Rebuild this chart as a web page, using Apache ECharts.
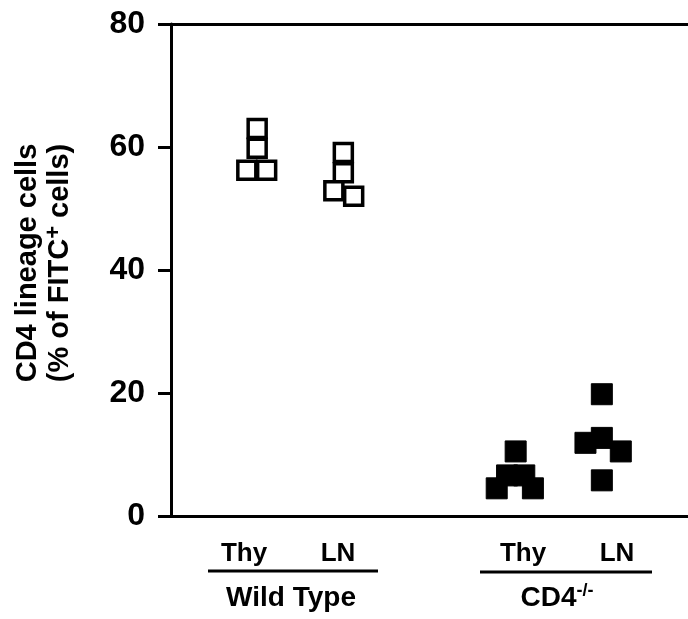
<!DOCTYPE html>
<html>
<head>
<meta charset="utf-8">
<script src="https://cdn.jsdelivr.net/npm/echarts@6/dist/echarts.min.js"></script>
<style>
html,body{margin:0;padding:0;background:#fff;}
#c{width:688px;height:619px;}
</style>
</head>
<body>
<div id="c"></div>
<script>
// ---- data ----
const tissues = ['Thy', 'LN', 'Thy', 'LN'];
const genotypes = ['Wild Type', 'CD4'];
const tissuePos = [1, 2, 4, 5];
const yTicks = [0, 20, 40, 60, 80];

const wtThyValues = [63, 59.8, 56.2, 56.2];
const wtThyJitter = [0, 0, -0.12, 0.11];
const wtLNValues = [59.1, 55.8, 52.9, 52.0];
const wtLNJitter = [0, 0, -0.11, 0.12];
const koThyValues = [10.5, 6.6, 6.6, 4.5, 4.5];
const koThyJitter = [0, -0.1, 0.1, -0.22, 0.2];
const koLNValues = [19.8, 12.7, 11.9, 10.5, 5.8];
const koLNJitter = [0, 0, -0.19, 0.22, 0];

function pts(pos, jitter, values) {
  return values.map((v, i) => [pos + jitter[i], v]);
}

const FONT = '"Liberation Sans", Arial, Helvetica, sans-serif';
const chart = echarts.init(document.getElementById('c'), null, {renderer: 'canvas'});

const openStyle = {color: '#fff', borderColor: '#000', borderWidth: 3.5, opacity: 1};
const filledStyle = {color: '#000', borderColor: '#000', borderWidth: 1, borderJoin: 'round', opacity: 1};

chart.setOption({
  animation: false,
  backgroundColor: '#fff',
  grid: {left: 171, right: 0, top: 24, bottom: 103, outerBoundsMode: 'none', containLabel: false},
  xAxis: [{
    type: 'value', min: 0, max: 6, position: 'bottom',
    axisLine: {show: true, onZero: false, lineStyle: {color: '#000', width: 3}},
    axisTick: {show: false}, axisLabel: {show: false}, splitLine: {show: false}
  }, {
    type: 'value', min: 0, max: 6, position: 'top',
    axisLine: {show: true, onZero: false, lineStyle: {color: '#000', width: 3}},
    axisTick: {show: false}, axisLabel: {show: false}, splitLine: {show: false}
  }],
  yAxis: {
    type: 'value', min: 0, max: 80, interval: 20,
    axisLine: {show: true, lineStyle: {color: '#000', width: 3}},
    axisTick: {show: true, inside: false, length: 13, lineStyle: {color: '#000', width: 3}},
    axisLabel: {show: true, margin: 26, color: '#000', fontSize: 32, fontWeight: 'bold', fontFamily: FONT,
      formatter: v => yTicks.includes(v) ? String(v) : ''},
    splitLine: {show: false}
  },
  series: [
    {type: 'scatter', symbol: 'rect', symbolSize: 18, itemStyle: openStyle, data: pts(tissuePos[0], wtThyJitter, wtThyValues), z: 3},
    {type: 'scatter', symbol: 'rect', symbolSize: 18, itemStyle: openStyle, data: pts(tissuePos[1], wtLNJitter, wtLNValues), z: 3},
    {type: 'scatter', symbol: 'rect', symbolSize: 21, itemStyle: filledStyle, data: pts(tissuePos[2], koThyJitter, koThyValues), z: 3},
    {type: 'scatter', symbol: 'rect', symbolSize: 21, itemStyle: filledStyle, data: pts(tissuePos[3], koLNJitter, koLNValues), z: 3}
  ],
  graphic: [
    {type: 'text', x: 28, y: 263, rotation: Math.PI / 2,
      style: {text: 'CD4 lineage cells', font: 'bold 29px ' + FONT, fill: '#000', align: 'center', verticalAlign: 'middle'}},
    {type: 'text', x: 60, y: 263, rotation: Math.PI / 2,
      style: {text: '(% of FITC{sup|+} cells)', font: 'bold 29px ' + FONT, fill: '#000', align: 'center', verticalAlign: 'middle',
        rich: {sup: {font: 'bold 22px ' + FONT, fill: '#000', padding: [0, 0, 12, 0]}}}},
    {type: 'text', x: 244, y: 554, style: {text: tissues[0], font: 'bold 26px ' + FONT, fill: '#000', align: 'center', verticalAlign: 'middle'}},
    {type: 'text', x: 338, y: 554, style: {text: tissues[1], font: 'bold 26px ' + FONT, fill: '#000', align: 'center', verticalAlign: 'middle'}},
    {type: 'text', x: 523, y: 554, style: {text: tissues[2], font: 'bold 26px ' + FONT, fill: '#000', align: 'center', verticalAlign: 'middle'}},
    {type: 'text', x: 617, y: 554, style: {text: tissues[3], font: 'bold 26px ' + FONT, fill: '#000', align: 'center', verticalAlign: 'middle'}},
    {type: 'line', shape: {x1: 208, y1: 571, x2: 378, y2: 571}, style: {stroke: '#000', lineWidth: 3}},
    {type: 'line', shape: {x1: 480, y1: 572, x2: 652, y2: 572}, style: {stroke: '#000', lineWidth: 3}},
    {type: 'text', x: 291, y: 598, style: {text: genotypes[0], font: 'bold 28px ' + FONT, fill: '#000', align: 'center', verticalAlign: 'middle'}},
    {type: 'text', x: 557, y: 598, style: {text: genotypes[1] + '{sup|-/-}', font: 'bold 28px ' + FONT, fill: '#000', align: 'center', verticalAlign: 'middle',
      rich: {sup: {font: 'bold 18px ' + FONT, fill: '#000', padding: [0, 0, 14, 0]}}}}
  ]
});
</script>
</body>
</html>
